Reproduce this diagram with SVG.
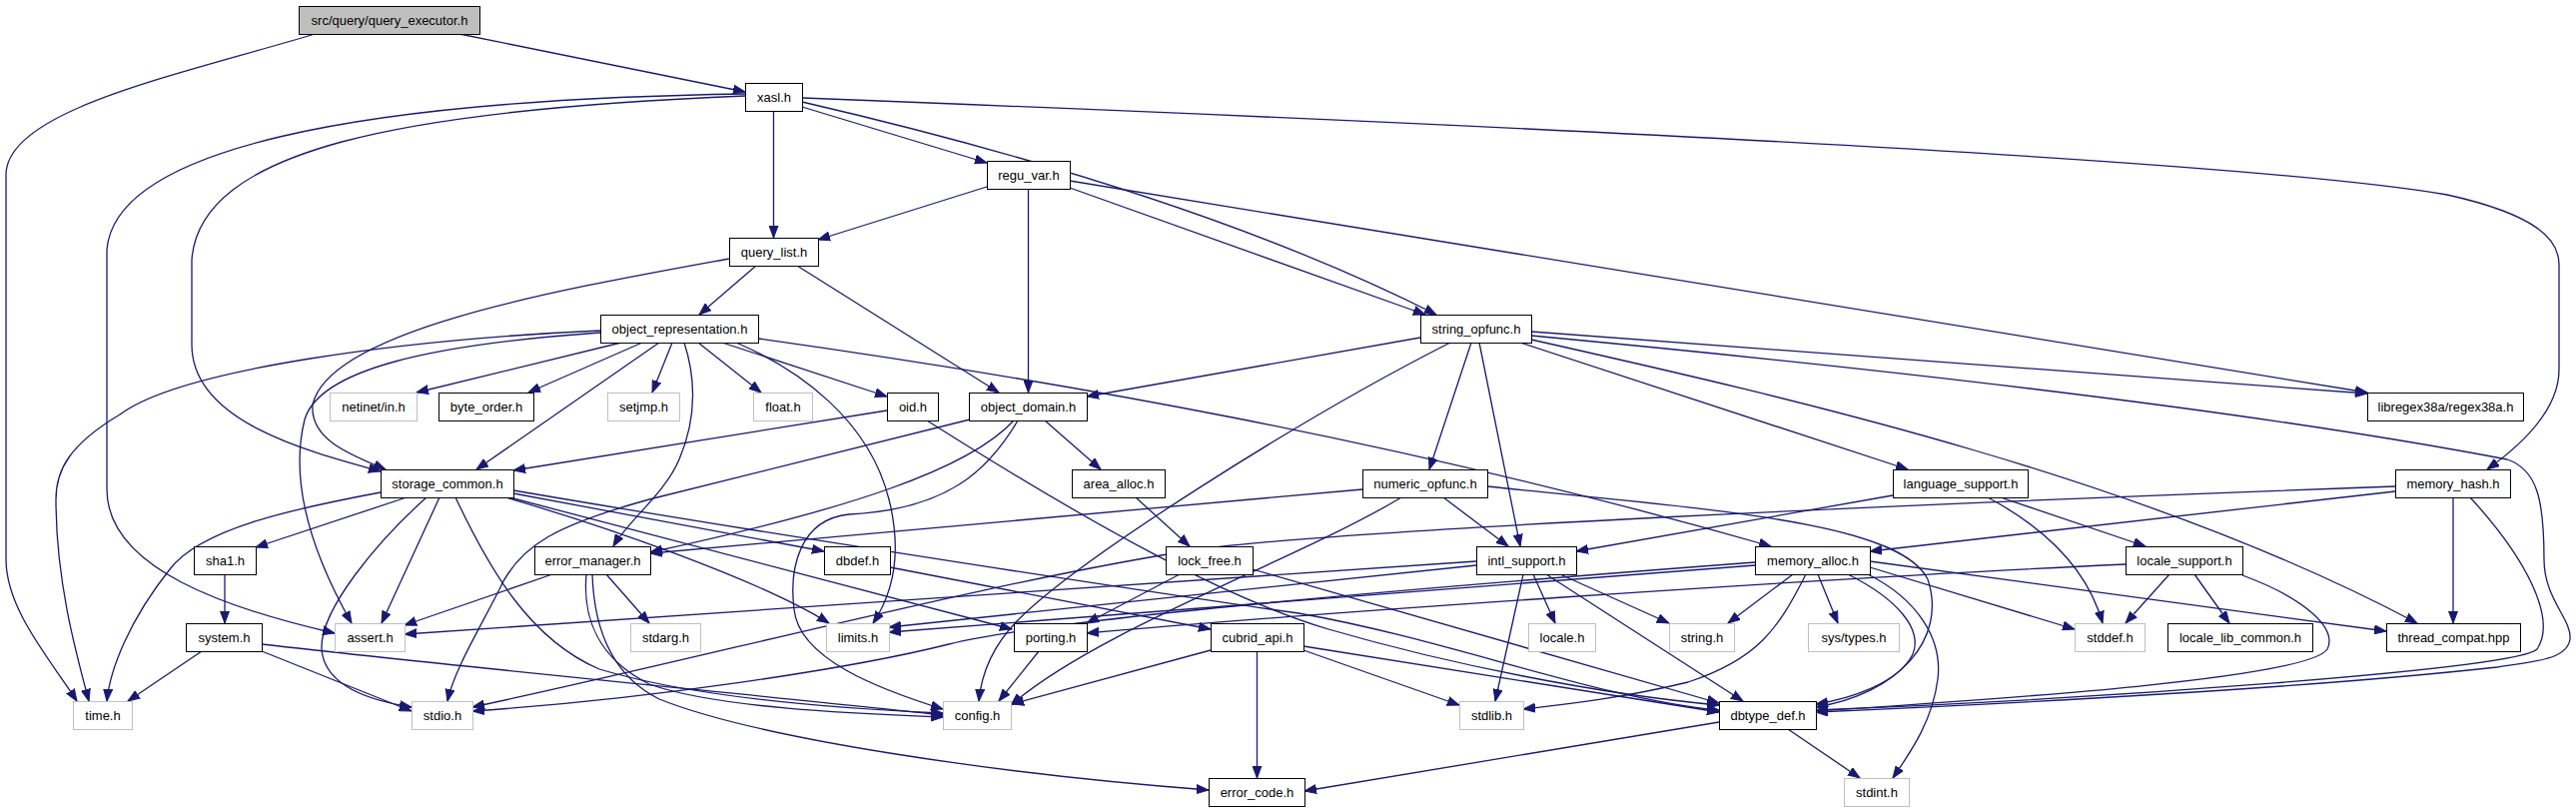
<svg xmlns="http://www.w3.org/2000/svg" width="2579" height="813" viewBox="0 0 2579 813">
<style>
.n rect{fill:#fff;stroke:#000;stroke-width:1}
.m rect{fill:#fff;stroke:#bfbfbf;stroke-width:1}
.r rect{fill:#bfbfbf;stroke:#000;stroke-width:1}
text{font-family:"Liberation Sans",Arial,sans-serif;font-size:13px;text-anchor:middle;fill:#000}
.e{fill:none;stroke:#191970;stroke-width:1.3;marker-end:url(#a)}
</style>
<defs>
<marker id="a" markerWidth="13" markerHeight="10" refX="12" refY="5" orient="auto" markerUnits="userSpaceOnUse">
<path d="M0,0.5 L12,5 L0,9.5 z" fill="#191970" stroke="#191970" stroke-width="1"/>
</marker>
</defs>
<rect x="0" y="0" width="2579" height="813" fill="#fff"/>
<g id="edges">
<path class="e" d="M315,34 C180,75 6,110 6,175 L6,560 C6,610 50,660 77,702"/>
<path class="e" d="M460,34 L746,92"/>
<path class="e" d="M774.5,111 L774.5,238"/>
<path class="e" d="M803,107 L988,163"/>
<path class="e" d="M803,102 C1010,150 1250,220 1438,315"/>
<path class="e" d="M803,98 C1500,125 2250,160 2450,195 C2540,215 2562,240 2562,265 L2562,370 C2562,410 2525,445 2490,470"/>
<path class="e" d="M746,96 C400,110 200,150 192,260 L192,345 C192,420 300,450 381,472"/>
<path class="e" d="M746,94 C350,100 115,150 107,250 L107,490 C107,570 230,610 335,634"/>
<path class="e" d="M988,187 L819,240"/>
<path class="e" d="M1029.5,189 L1029.5,393"/>
<path class="e" d="M1071,188 L1427,315"/>
<path class="e" d="M1071,181 L2370,393"/>
<path class="e" d="M757,266 L700,315"/>
<path class="e" d="M798,266 L1000,393"/>
<path class="e" d="M730,259 C560,290 330,330 313,405 C310,440 350,455 386,470"/>
<path class="e" d="M601,331 C400,340 180,370 120,415 C70,445 56,470 56,500 C56,580 75,650 89,702"/>
<path class="e" d="M601,333 C430,345 320,370 305,420 C290,480 310,550 352,624"/>
<path class="e" d="M622,343 L417,393"/>
<path class="e" d="M643,343 L529,393"/>
<path class="e" d="M660,343 L477,470"/>
<path class="e" d="M673,343 L653,393"/>
<path class="e" d="M699,343 L762,393"/>
<path class="e" d="M723,343 L888,397"/>
<path class="e" d="M685,343 C697,380 697,420 680,460 C665,495 630,520 614,547"/>
<path class="e" d="M737,343 C800,370 870,420 890,500 C905,560 890,600 874,624"/>
<path class="e" d="M759,339 C1050,380 1400,440 1773,547"/>
<path class="e" d="M888,411 L514,471"/>
<path class="e" d="M928,421 C1100,530 1230,600 1330,630 C1450,665 1600,695 1721,706"/>
<path class="e" d="M1046,421 L1102,470"/>
<path class="e" d="M1015,421 C970,470 850,510 651,553"/>
<path class="e" d="M971,420 L650,500 C560,525 520,545 500,590 C480,630 455,670 448,702"/>
<path class="e" d="M1019,421 C990,470 950,510 850,515 C800,520 790,570 795,610 C800,660 880,690 944,710"/>
<path class="e" d="M1137,498 L1191,547"/>
<path class="e" d="M1181,575 L1088,624"/>
<path class="e" d="M1254,570 L1721,704"/>
<path class="e" d="M381,493 C290,510 200,530 170,570 C130,620 110,670 107,702"/>
<path class="e" d="M407,498 L256,548"/>
<path class="e" d="M427,498 C380,540 320,610 322,650 C325,690 380,703 412,708"/>
<path class="e" d="M440,498 L382,624"/>
<path class="e" d="M456,498 C490,570 530,640 600,670 C700,700 850,710 944,714"/>
<path class="e" d="M514,494 L825,552"/>
<path class="e" d="M506,498 C600,525 760,580 830,624"/>
<path class="e" d="M510,498 L1013,630"/>
<path class="e" d="M514,491 C800,540 1200,600 1300,614 C1450,640 1600,700 1721,711"/>
<path class="e" d="M225,575 L225,624"/>
<path class="e" d="M202,652 L128,702"/>
<path class="e" d="M262,652 L412,712"/>
<path class="e" d="M262,645 C500,672 800,700 944,716"/>
<path class="e" d="M553,575 L405,626"/>
<path class="e" d="M607,575 L650,624"/>
<path class="e" d="M587,575 C583,620 600,660 650,685 C720,710 870,715 944,718"/>
<path class="e" d="M593,575 C595,640 620,680 660,700 C760,740 1000,775 1210,791"/>
<path class="e" d="M891,568 L1212,630"/>
<path class="e" d="M1258.5,652 L1258.5,779"/>
<path class="e" d="M1212,651 L1013,705"/>
<path class="e" d="M1305,651 L1461,706"/>
<path class="e" d="M1305,647 L1721,713"/>
<path class="e" d="M1040,652 L1000,702"/>
<path class="e" d="M1445,498 L1510,547"/>
<path class="e" d="M1403,498 C1300,560 1100,630 1012,706"/>
<path class="e" d="M1364,490 L651,554"/>
<path class="e" d="M1489,487 C1700,510 1900,520 1930,580 C1950,640 1900,695 1818,708"/>
<path class="e" d="M1422,338 L1088,397"/>
<path class="e" d="M1452,343 C1300,420 1080,560 1020,620 C990,650 982,680 980,702"/>
<path class="e" d="M1473,343 L1431,470"/>
<path class="e" d="M1481,343 L1522,547"/>
<path class="e" d="M1522,343 L1910,470"/>
<path class="e" d="M1533,340 C1800,400 2150,480 2420,624"/>
<path class="e" d="M1533,332 L2370,394"/>
<path class="e" d="M1533,336 C2000,380 2300,420 2510,460 C2540,470 2547,500 2547,560 C2547,600 2575,620 2573,640 C2570,660 2540,662 2500,668 C2300,690 2000,705 1818,713"/>
<path class="e" d="M1895,496 L1578,552"/>
<path class="e" d="M1990,498 C2050,530 2090,570 2105,624"/>
<path class="e" d="M2003,498 L2148,547"/>
<path class="e" d="M2128,565 C1800,580 1300,615 1088,634"/>
<path class="e" d="M2172,575 L2128,624"/>
<path class="e" d="M2197,575 L2232,624"/>
<path class="e" d="M2245,576 C2310,600 2340,630 2330,650 C2310,680 2000,700 1818,712"/>
<path class="e" d="M2456,498 L2456,624"/>
<path class="e" d="M2473,498 C2530,560 2560,620 2540,650 C2520,670 2100,700 1818,711"/>
<path class="e" d="M2398,492 L1872,552"/>
<path class="e" d="M2398,487 C1900,505 1350,530 1200,550 C1000,580 700,660 473,708"/>
<path class="e" d="M1795,575 L1730,624"/>
<path class="e" d="M1820,575 L1840,624"/>
<path class="e" d="M1808,575 C1780,630 1760,660 1690,683 C1620,700 1560,706 1525,710"/>
<path class="e" d="M1870,575 C1920,600 1945,640 1940,680 C1935,720 1915,750 1895,779"/>
<path class="e" d="M1850,575 C1900,600 1925,630 1915,655 C1900,685 1850,700 1818,705"/>
<path class="e" d="M1872,568 L2077,630"/>
<path class="e" d="M1872,562 L2389,632"/>
<path class="e" d="M1757,566 L890,633"/>
<path class="e" d="M1757,563 C1400,590 1050,620 950,645 C850,670 650,700 473,712"/>
<path class="e" d="M1478,562 L405,635"/>
<path class="e" d="M1478,566 L890,628"/>
<path class="e" d="M1525,575 L1497,702"/>
<path class="e" d="M1535,575 L1557,624"/>
<path class="e" d="M1548,575 L1745,702"/>
<path class="e" d="M1562,575 L1671,624"/>
<path class="e" d="M1721,723 L1306,792"/>
<path class="e" d="M1790,730 L1862,779"/>
</g>
<g id="qe" class="r"><rect x="299.5" y="6.5" width="181" height="28"/><text x="390" y="25">src/query/query_executor.h</text></g>
<g id="xasl" class="n"><rect x="746.5" y="83.5" width="57" height="28"/><text x="775" y="102">xasl.h</text></g>
<g id="regu_var" class="n"><rect x="988.5" y="161.5" width="83" height="28"/><text x="1030" y="180">regu_var.h</text></g>
<g id="query_list" class="n"><rect x="730.5" y="238.5" width="89" height="28"/><text x="775" y="257">query_list.h</text></g>
<g id="object_representation" class="n"><rect x="601.5" y="315.5" width="158" height="28"/><text x="680.5" y="334">object_representation.h</text></g>
<g id="string_opfunc" class="n"><rect x="1422.5" y="315.5" width="111" height="28"/><text x="1478" y="334">string_opfunc.h</text></g>
<g id="netinet_in" class="m"><rect x="330.5" y="393.5" width="87" height="28"/><text x="374" y="412">netinet/in.h</text></g>
<g id="byte_order" class="n"><rect x="439.5" y="393.5" width="95" height="28"/><text x="487" y="412">byte_order.h</text></g>
<g id="setjmp" class="m"><rect x="608.5" y="393.5" width="72" height="28"/><text x="644.5" y="412">setjmp.h</text></g>
<g id="float" class="m"><rect x="754.5" y="393.5" width="59" height="28"/><text x="784" y="412">float.h</text></g>
<g id="oid" class="n"><rect x="888.5" y="393.5" width="51" height="28"/><text x="914" y="412">oid.h</text></g>
<g id="object_domain" class="n"><rect x="970.5" y="393.5" width="118" height="28"/><text x="1029.5" y="412">object_domain.h</text></g>
<g id="libregex" class="n"><rect x="2370.5" y="393.5" width="156" height="28"/><text x="2448.5" y="412">libregex38a/regex38a.h</text></g>
<g id="storage_common" class="n"><rect x="381.5" y="470.5" width="133" height="28"/><text x="448" y="489">storage_common.h</text></g>
<g id="area_alloc" class="n"><rect x="1073.5" y="470.5" width="93" height="28"/><text x="1120" y="489">area_alloc.h</text></g>
<g id="numeric_opfunc" class="n"><rect x="1364.5" y="470.5" width="125" height="28"/><text x="1427" y="489">numeric_opfunc.h</text></g>
<g id="language_support" class="n"><rect x="1895.5" y="470.5" width="135" height="28"/><text x="1963" y="489">language_support.h</text></g>
<g id="memory_hash" class="n"><rect x="2398.5" y="470.5" width="115" height="28"/><text x="2456" y="489">memory_hash.h</text></g>
<g id="sha1" class="n"><rect x="194.5" y="547.5" width="62" height="28"/><text x="225.5" y="566">sha1.h</text></g>
<g id="error_manager" class="n"><rect x="535.5" y="547.5" width="116" height="28"/><text x="593.5" y="566">error_manager.h</text></g>
<g id="dbdef" class="n"><rect x="825.5" y="547.5" width="66" height="28"/><text x="858.5" y="566">dbdef.h</text></g>
<g id="lock_free" class="n"><rect x="1167.5" y="547.5" width="87" height="28"/><text x="1211" y="566">lock_free.h</text></g>
<g id="intl_support" class="n"><rect x="1478.5" y="547.5" width="100" height="28"/><text x="1528.5" y="566">intl_support.h</text></g>
<g id="memory_alloc" class="n"><rect x="1757.5" y="547.5" width="115" height="28"/><text x="1815" y="566">memory_alloc.h</text></g>
<g id="locale_support" class="n"><rect x="2128.5" y="547.5" width="117" height="28"/><text x="2187" y="566">locale_support.h</text></g>
<g id="system" class="n"><rect x="186.5" y="624.5" width="76" height="28"/><text x="224.5" y="643">system.h</text></g>
<g id="assert" class="m"><rect x="335.5" y="624.5" width="70" height="28"/><text x="370.5" y="643">assert.h</text></g>
<g id="stdarg" class="m"><rect x="631.5" y="624.5" width="70" height="28"/><text x="666.5" y="643">stdarg.h</text></g>
<g id="limits" class="m"><rect x="827.5" y="624.5" width="63" height="28"/><text x="859" y="643">limits.h</text></g>
<g id="porting" class="n"><rect x="1015.5" y="624.5" width="73" height="28"/><text x="1052" y="643">porting.h</text></g>
<g id="cubrid_api" class="n"><rect x="1212.5" y="624.5" width="93" height="28"/><text x="1259" y="643">cubrid_api.h</text></g>
<g id="locale" class="m"><rect x="1530.5" y="624.5" width="67" height="28"/><text x="1564" y="643">locale.h</text></g>
<g id="string" class="m"><rect x="1671.5" y="624.5" width="65" height="28"/><text x="1704" y="643">string.h</text></g>
<g id="sys_types" class="m"><rect x="1810.5" y="624.5" width="91" height="28"/><text x="1856" y="643">sys/types.h</text></g>
<g id="stddef" class="m"><rect x="2077.5" y="624.5" width="70" height="28"/><text x="2112.5" y="643">stddef.h</text></g>
<g id="locale_lib_common" class="n"><rect x="2170.5" y="624.5" width="145" height="28"/><text x="2243" y="643">locale_lib_common.h</text></g>
<g id="thread_compat" class="n"><rect x="2389.5" y="624.5" width="134" height="28"/><text x="2456.5" y="643">thread_compat.hpp</text></g>
<g id="time" class="m"><rect x="73.5" y="702.5" width="59" height="28"/><text x="103" y="721">time.h</text></g>
<g id="stdio" class="m"><rect x="412.5" y="702.5" width="61" height="28"/><text x="443" y="721">stdio.h</text></g>
<g id="config" class="m"><rect x="944.5" y="702.5" width="68" height="28"/><text x="978.5" y="721">config.h</text></g>
<g id="stdlib" class="m"><rect x="1461.5" y="702.5" width="64" height="28"/><text x="1493.5" y="721">stdlib.h</text></g>
<g id="dbtype_def" class="n"><rect x="1721.5" y="702.5" width="97" height="28"/><text x="1770" y="721">dbtype_def.h</text></g>
<g id="error_code" class="n"><rect x="1210.5" y="779.5" width="96" height="28"/><text x="1258.5" y="798">error_code.h</text></g>
<g id="stdint" class="m"><rect x="1846.5" y="779.5" width="65" height="28"/><text x="1879" y="798">stdint.h</text></g>
</svg>
